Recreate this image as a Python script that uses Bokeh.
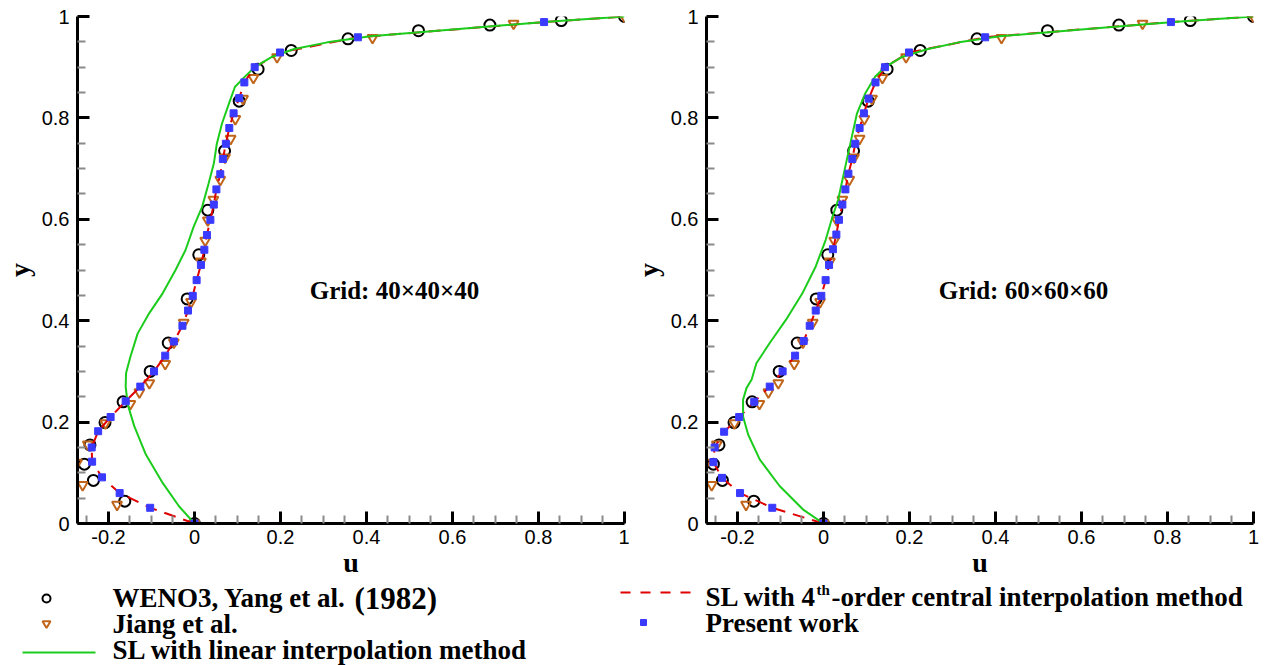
from bokeh.plotting import figure
from bokeh.layouts import column, row
from bokeh.models import Range1d, FixedTicker, Label
from bokeh.embed import file_html
from bokeh.resources import INLINE

# ---------------- data ----------------
# WENO3, Yang et al. (1982) - same in both panels
weno_u = [0, -0.162, -0.235, -0.256, -0.243, -0.208, -0.166, -0.103, -0.061, -0.017,
          0.010, 0.031, 0.070, 0.104, 0.148, 0.225, 0.357, 0.521, 0.687, 0.853, 1.0]
weno_y = [0, 0.044, 0.085, 0.117, 0.155, 0.199, 0.240, 0.300, 0.356, 0.443,
          0.530, 0.618, 0.735, 0.833, 0.896, 0.933, 0.956, 0.972, 0.983, 0.992, 1.0]

# Jiang et al. - same in both panels
jiang_u = [0, -0.180, -0.260, -0.273, -0.248, -0.207, -0.149, -0.128, -0.105, -0.068,
           -0.048, -0.025, -0.008, 0.015, 0.025, 0.031, 0.044, 0.060, 0.071, 0.084,
           0.095, 0.113, 0.137, 0.192, 0.414, 0.742, 1.0]
jiang_y = [0, 0.037, 0.076, 0.120, 0.156, 0.198, 0.236, 0.259, 0.277, 0.315,
           0.357, 0.396, 0.437, 0.517, 0.558, 0.598, 0.639, 0.678, 0.722, 0.759,
           0.798, 0.838, 0.879, 0.920, 0.958, 0.986, 1.0]

# Present work, grid 40
present40_u = [0, -0.103, -0.174, -0.215, -0.238, -0.239, -0.224, -0.195, -0.160, -0.126,
               -0.094, -0.068, -0.048, -0.028, -0.015, -0.004, 0.005, 0.015, 0.023, 0.029,
               0.037, 0.045, 0.051, 0.060, 0.066, 0.073, 0.081, 0.091, 0.104, 0.116,
               0.140, 0.199, 0.380, 0.813]
present40_y = [0, 0.031, 0.060, 0.091, 0.122, 0.150, 0.182, 0.210, 0.241, 0.270,
               0.300, 0.331, 0.359, 0.390, 0.420, 0.449, 0.480, 0.510, 0.540, 0.569,
               0.599, 0.629, 0.659, 0.689, 0.719, 0.749, 0.780, 0.809, 0.839, 0.870,
               0.900, 0.929, 0.959, 0.989]

# Present work, grid 60
present60_u = [0, -0.119, -0.194, -0.236, -0.256, -0.253, -0.231, -0.196, -0.161, -0.125,
               -0.095, -0.066, -0.046, -0.032, -0.018, -0.005, 0.005, 0.013, 0.022, 0.030,
               0.036, 0.044, 0.051, 0.058, 0.067, 0.074, 0.084, 0.094, 0.105, 0.121,
               0.143, 0.199, 0.376, 0.808]
present60_y = [0, 0.031, 0.060, 0.090, 0.121, 0.150, 0.181, 0.210, 0.240, 0.270,
               0.300, 0.331, 0.360, 0.390, 0.420, 0.449, 0.480, 0.510, 0.541, 0.570,
               0.599, 0.629, 0.659, 0.690, 0.719, 0.749, 0.780, 0.809, 0.838, 0.870,
               0.900, 0.929, 0.959, 0.989]

# SL with 4th-order central interpolation (red dashed)
sl4_40_u = present40_u + [1.0]
sl4_40_y = present40_y + [1.0]
sl4_60_u = present60_u + [1.0]
sl4_60_y = present60_y + [1.0]

# SL with linear interpolation (green), grid 40
sllin40_u = [0, -0.036, -0.074, -0.113, -0.140, -0.155, -0.160, -0.159, -0.149, -0.132,
             -0.105, -0.074, -0.044, -0.021, -0.002, 0.018, 0.033, 0.045, 0.052, 0.064,
             0.083, 0.094, 0.112, 0.140, 0.179, 0.232, 0.309, 0.409, 0.523, 0.677, 0.830, 1.0]
sllin40_y = [0, 0.034, 0.080, 0.136, 0.192, 0.234, 0.270, 0.297, 0.329, 0.375,
             0.415, 0.454, 0.500, 0.539, 0.585, 0.625, 0.671, 0.710, 0.749, 0.789,
             0.835, 0.861, 0.877, 0.900, 0.920, 0.936, 0.949, 0.961, 0.969, 0.980, 0.990, 1.0]

# SL with linear interpolation (green), grid 60
sllin60_u = [0, -0.048, -0.102, -0.148, -0.175, -0.187, -0.187, -0.179, -0.167, -0.156,
             -0.125, -0.087, -0.049, -0.018, 0.005, 0.021, 0.034, 0.059, 0.078, 0.097,
             0.120, 0.143, 0.182, 0.243, 0.315, 0.410, 0.523, 0.677, 0.830, 1.0]
sllin60_y = [0, 0.028, 0.074, 0.126, 0.175, 0.211, 0.244, 0.267, 0.284, 0.316,
             0.356, 0.402, 0.454, 0.507, 0.559, 0.605, 0.638, 0.736, 0.809, 0.848,
             0.881, 0.900, 0.920, 0.936, 0.949, 0.961, 0.969, 0.980, 0.990, 1.0]

x_ticks = [-0.2, 0, 0.2, 0.4, 0.6, 0.8, 1.0]
x_tick_labels = ["-0.2", "0", "0.2", "0.4", "0.6", "0.8", "1"]
x_minor = [-0.25, -0.15, -0.1, -0.05, 0.05, 0.1, 0.15, 0.25, 0.3, 0.35, 0.45, 0.5, 0.55,
           0.65, 0.7, 0.75, 0.85, 0.9, 0.95]
y_ticks = [0, 0.2, 0.4, 0.6, 0.8, 1.0]
y_tick_labels = ["0", "0.2", "0.4", "0.6", "0.8", "1"]
y_minor = [0.05, 0.1, 0.15, 0.25, 0.3, 0.35, 0.45, 0.5, 0.55, 0.65, 0.7, 0.75, 0.85, 0.9, 0.95]

panels = [
    ("Grid: 40\u00d740\u00d740", present40_u, present40_y, sl4_40_u, sl4_40_y, sllin40_u, sllin40_y),
    ("Grid: 60\u00d760\u00d760", present60_u, present60_y, sl4_60_u, sl4_60_y, sllin60_u, sllin60_y),
]

C_RED = "#e00000"
C_GREEN = "#1ccc1c"
C_BLUE = "#3a3aff"
C_BROWN = "#c0651a"
SERIF = "Liberation Serif"
SANS = "Liberation Sans"


def make_panel(title, pu, py, ru, ry, gu, gy, width, right_border):
    p = figure(width=width, height=580, x_range=Range1d(-0.272, 1.0), y_range=Range1d(0, 1),
               output_backend="svg", toolbar_location=None,
               min_border_left=70, min_border_right=right_border,
               min_border_top=16, min_border_bottom=56)
    p.outline_line_color = None
    p.grid.visible = False
    p.xaxis.ticker = FixedTicker(ticks=x_ticks, minor_ticks=x_minor)
    p.yaxis.ticker = FixedTicker(ticks=y_ticks, minor_ticks=y_minor)
    p.xaxis.major_label_overrides = dict(zip(x_ticks, x_tick_labels))
    p.yaxis.major_label_overrides = dict(zip(y_ticks, y_tick_labels))
    for ax in (p.xaxis[0], p.yaxis[0]):
        ax.axis_line_width = 3
        ax.axis_line_color = "black"
        ax.major_tick_in = 12
        ax.major_tick_out = 0
        ax.major_tick_line_width = 3
        ax.minor_tick_in = 8
        ax.minor_tick_out = 0
        ax.minor_tick_line_width = 2
        ax.minor_tick_line_color = "#8a8a8a"
        ax.major_label_text_font = SANS
        ax.major_label_text_font_size = "20px"
        ax.major_label_text_color = "black"
        ax.axis_label_text_font = SERIF
        ax.axis_label_text_font_style = "bold"
        ax.axis_label_text_font_size = "28px"
        ax.axis_label_text_color = "black"
    p.xaxis.axis_label = "u"
    p.yaxis.axis_label = "y"
    p.xaxis.major_label_standoff = 6
    p.xaxis.axis_label_standoff = 0
    p.yaxis.major_label_standoff = 8
    p.yaxis.axis_label_standoff = 4

    p.scatter(weno_u, weno_y, marker="circle", size=11, fill_color=None,
              line_color="black", line_width=2)
    p.scatter(jiang_u, jiang_y, marker="inverted_triangle", size=10, fill_color=None,
              line_color=C_BROWN, line_width=2)
    p.line(ru, ry, line_color=C_RED, line_width=2, line_dash="12 8")
    p.line(gu, gy, line_color=C_GREEN, line_width=2)
    p.scatter(pu, py, marker="square", size=7, fill_color=C_BLUE, line_color=C_BLUE)

    p.add_layout(Label(x=0.465, y=0.46, text=title, text_align="center", text_baseline="middle",
                       text_font=SERIF, text_font_style="bold", text_font_size="25px",
                       text_color="black"))
    return p


p1 = make_panel(*panels[0], width=629, right_border=5)
p2 = make_panel(*panels[1], width=635, right_border=11)

# ---------------- legend strip ----------------
leg = figure(width=1264, height=85, x_range=Range1d(0, 1264), y_range=Range1d(85, 0),
             output_backend="svg", toolbar_location=None, min_border=0)
leg.axis.visible = False
leg.grid.visible = False
leg.outline_line_color = None

leg.scatter([46], [18], marker="circle", size=8, fill_color=None, line_color="black", line_width=2)
leg.scatter([46], [43], marker="inverted_triangle", size=8, fill_color=None, line_color=C_BROWN, line_width=2)
leg.line([22, 95], [72, 72], line_color=C_GREEN, line_width=2)
leg.line([620, 692], [12, 12], line_color=C_RED, line_width=2, line_dash="10 10")
leg.scatter([643], [42], marker="square", size=6, fill_color=C_BLUE, line_color=C_BLUE)


def lab(x, y, text, size="27px", baseline="middle"):
    leg.add_layout(Label(x=x, y=y, text=text, text_baseline=baseline, text_align="left",
                         text_font=SERIF, text_font_style="bold", text_font_size=size,
                         text_color="black"))


lab(112, 17, "WENO3, Yang et al.")
lab(354, 18, "(1982)", size="31px")
lab(112, 43, "Jiang et al.")
lab(112, 69, "SL with linear interpolation method")
lab(705, 16, "SL with 4")
lab(816, 1, "th", size="15px", baseline="top")
lab(831, 16, "-order central interpolation method")
lab(705, 42, "Present work")

layout = column(row(p1, p2, spacing=0), leg, spacing=0)
open("out.html", "w").write(file_html(layout, INLINE))
